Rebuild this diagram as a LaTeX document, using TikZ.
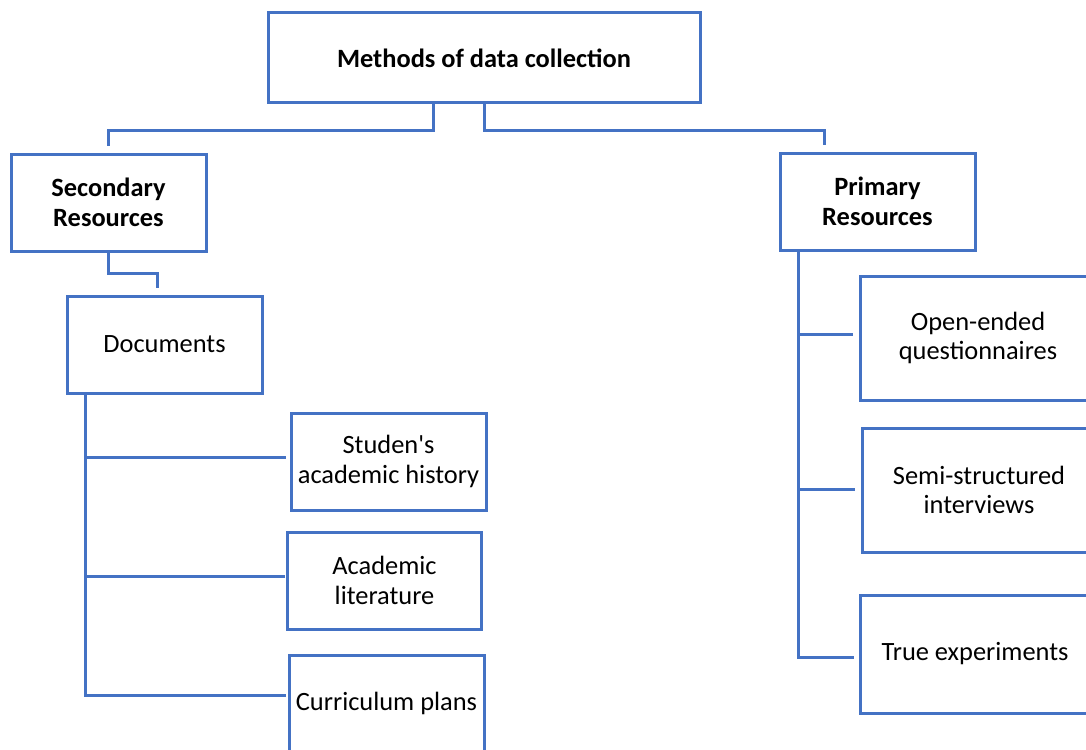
\documentclass[tikz,border=0pt]{standalone}
\usepackage{fontspec}
\setmainfont{Carlito}
\definecolor{boxblue}{HTML}{4472C4}
\begin{document}
\begin{tikzpicture}[x=1pt,y=-1pt,
  box/.style={draw=boxblue, line width=3pt, rectangle, inner sep=0pt, align=center,
    text=black, font=\fontsize{26.4}{29.5}\selectfont},
  head/.style={box, font=\fontsize{26.4}{29.5}\selectfont\bfseries},
  link/.style={draw=boxblue, line width=3pt}]
\clip (0,0) rectangle (1086,749);
\fill[white] (0,0) rectangle (1086,749);

% boxes
\node[head, minimum width=432pt, minimum height=90pt] (top) at (484,58) {Methods of data collection};
\node[head, minimum width=195pt, minimum height=97pt] (sec) at (108.5,202.5) {Secondary\\Resources};
\node[head, minimum width=195pt, minimum height=97pt] (pri) at (877.5,201.5) {Primary\\Resources};
\node[box, minimum width=195pt, minimum height=97pt] (docs) at (164.5,344.5) {Documents};
\node[box, minimum width=195pt, minimum height=97pt] (stud) at (388.5,461.5) {Studen{\textquotesingle}s\\academic history};
\node[box, minimum width=194pt, minimum height=97pt] (acad) at (384.5,580.5) {Academic\\literature};
\node[box, minimum width=195pt, minimum height=96pt] (curr) at (386.5,703) {Curriculum plans};
\node[box, minimum width=236pt, minimum height=124pt] (open) at (978,338) {Open-ended\\questionnaires};
\node[box, minimum width=234pt, minimum height=124pt] (semi) at (979,490) {Semi-structured\\interviews};
\node[box, minimum width=230pt, minimum height=118pt] (texp) at (975,654) {True experiments};

% top level connectors
\draw[link] ([xshift=-51pt]top.south) -- ++(0,26) -| ([yshift=7pt]sec.north);
\draw[link] (top.south) -- ++(0,26) -| ([xshift=-53.5pt,yshift=7pt]pri.north);
\draw[link] (sec.south) -- ++(0,21) -| ([xshift=-7.5pt,yshift=7pt]docs.north);

% documents branch
\coordinate (dt) at ([xshift=20pt]docs.south west);
\coordinate (sb) at ([xshift=-4pt,yshift=4.5pt]stud.west);
\coordinate (ab) at ([xshift=-1pt,yshift=4.5pt]acad.west);
\coordinate (cb) at ([xshift=-2pt,yshift=8pt]curr.west);
\draw[link] (dt) |- (cb);
\draw[link] (sb) -- (dt |- sb);
\draw[link] (ab) -- (dt |- ab);

% primary branch
\coordinate (pt) at ([xshift=20pt]pri.south west);
\coordinate (ob) at ([xshift=-6pt,yshift=4pt]open.west);
\coordinate (mb) at ([xshift=-6pt,yshift=1pt]semi.west);
\coordinate (tb) at ([xshift=-5pt,yshift=-3pt]texp.west);
\draw[link] (pt) |- (tb);
\draw[link] (ob) -- (pt |- ob);
\draw[link] (mb) -- (pt |- mb);
\end{tikzpicture}
\end{document}
